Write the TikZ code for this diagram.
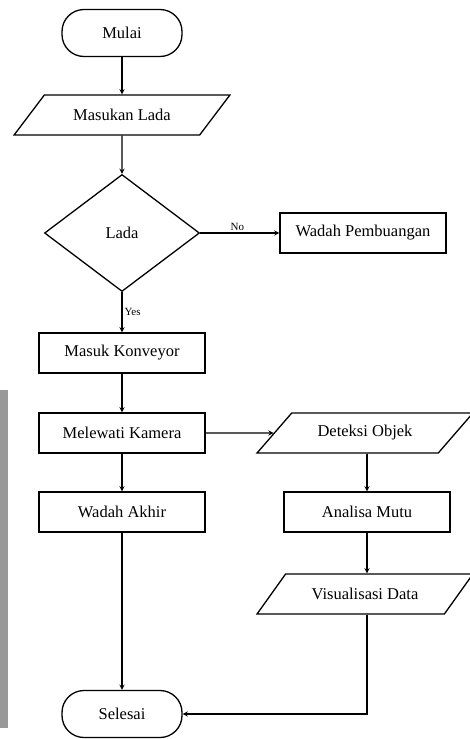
\documentclass[tikz,border=0pt]{standalone}
\usepackage{fontspec}
\setmainfont{Liberation Serif}
\usetikzlibrary{shapes,arrows,positioning}

\begin{document}
\begin{tikzpicture}[
    x=1pt, y=1pt,
    line width=1.3pt,
    node distance=80pt,
    startstop/.style={rectangle, draw, rounded corners=22pt, minimum width=120pt, minimum height=47pt, text centered, font=\fontsize{16.5}{19}\selectfont},
    io/.style={trapezium, trapezium left angle=42, trapezium right angle=138, trapezium stretches=true, draw, minimum width=216pt, minimum height=40pt, text centered, font=\fontsize{16.5}{19}\selectfont},
    process/.style={rectangle, draw, minimum width=166pt, minimum height=40pt, text centered, font=\fontsize{16.5}{19}\selectfont},
    decision/.style={diamond, draw, minimum width=155pt, minimum height=117pt, inner sep=0pt, text centered, font=\fontsize{16.5}{19}\selectfont},
    arrow/.style={->, >=stealth},
    lbl/.style={font=\fontsize{11}{12}\selectfont, inner sep=2pt}
]
\useasboundingbox (0,0) rectangle (470,-739);
\fill[black!40] (0,-390) rectangle (8,-728);

\node[startstop] (mulai) at (122,-33) {Mulai};
\node[io, below of=mulai, node distance=82pt] (masukan) {Masukan Lada};
\node[decision, below of=masukan, node distance=118pt] (lada) {Lada};
\node[process, right of=lada, node distance=241pt] (buang) {Wadah Pembuangan};
\node[process, below of=lada, node distance=120pt] (konveyor) {Masuk Konveyor};
\node[process, below of=konveyor] (kamera) {Melewati Kamera};
\node[io, right of=kamera, node distance=243pt] (deteksi) {Deteksi Objek};
\node[process, below of=kamera, node distance=79pt] (akhir) {Wadah Akhir};
\node[process, below of=deteksi, node distance=79pt, xshift=2pt] (analisa) {Analisa Mutu};
\node[io, below of=analisa, node distance=82pt, xshift=-2pt] (visual) {Visualisasi Data};
\node[startstop, below of=akhir, node distance=202pt] (selesai) {Selesai};

\draw[arrow] (mulai) -- (masukan);
\draw[arrow] (masukan) -- (lada);
\draw[arrow] (lada) -- node[lbl, above, pos=0.47] {No} (buang);
\draw[arrow] (lada) -- node[lbl, right, pos=0.5] {Yes} (konveyor);
\draw[arrow] (konveyor) -- (kamera);
\draw[arrow] (kamera) -- (deteksi);
\draw[arrow] (kamera) -- (akhir);
\draw[arrow] (deteksi.south -| analisa) -- (analisa);
\draw[arrow] (analisa) -- (visual.north -| analisa);
\draw[arrow] (akhir) -- (selesai);
\draw[arrow] (visual.south -| analisa) |- (selesai);

\end{tikzpicture}
\end{document}
